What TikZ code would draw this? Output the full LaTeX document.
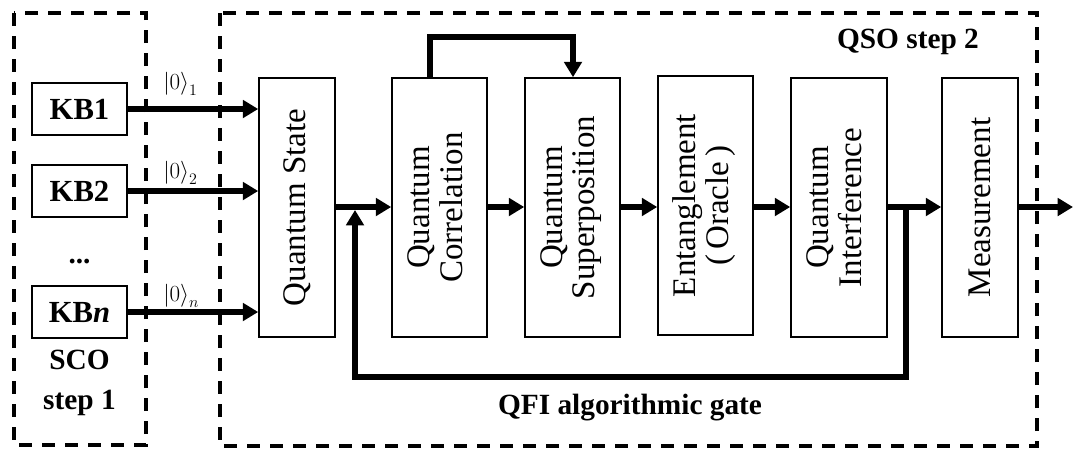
\documentclass[tikz,border=0pt]{standalone}
\usepackage{fontspec}
\setmainfont{Liberation Serif}
\usetikzlibrary{arrows.meta}
\begin{document}
\begin{tikzpicture}[x=0.75pt,y=-0.75pt,
  dashbox/.style={draw,line width=3pt,dash pattern=on 9.75pt off 7.5pt},
  block/.style={draw,line width=1.2pt,inner sep=0pt,font=\fontsize{24.75}{24}\selectfont,align=center},
  kbbox/.style={draw,line width=1pt,inner sep=0pt,minimum width=71.25pt,minimum height=39pt,font=\fontsize{23}{27}\selectfont\bfseries},
  arr/.style={line width=4.5pt,-{Triangle[length=11.5pt,width=13pt]}},
  lbl/.style={font=\fontsize{22}{30}\selectfont\bfseries,align=center,inner sep=0pt},
  ket/.style={font=\fontsize{16.5}{18}\selectfont,anchor=west,inner sep=0pt}
]
\useasboundingbox (0,0) rectangle (1073,450);
% dashed frames
\draw[dashbox] (14,13) rectangle (146,445);
\draw[dashbox] (220,13) rectangle (1037,446);
% KB boxes
\node[kbbox] (kb1) at (79.5,109) {KB1};
\node[kbbox] (kb2) at (79.5,191) {KB2};
\node[lbl] (dots) at (79.5,262) {...};
\node[kbbox] (kbn) at (79.5,312) {KB\textit{n}};
\node[lbl] (sco) at (79.5,383) {SCO\\step 1};
% blocks
\node[block,minimum width=57pt,minimum height=194.25pt] (qs) at (297,207.5) {\rotatebox{90}{Quantum State}};
\node[block,minimum width=71.25pt,minimum height=194.25pt] (qc) at (439.5,207.5) {\rotatebox{90}{\begin{tabular}{@{}c@{}}Quantum\\Correlation\end{tabular}}};
\node[block,minimum width=71.25pt,minimum height=194.25pt] (qsp) at (572.5,207.5) {\rotatebox{90}{\begin{tabular}{@{}c@{}}Quantum\\Superposition\end{tabular}}};
\node[block,minimum width=71.25pt,minimum height=194.25pt] (ent) at (705.5,205.5) {\rotatebox{90}{\begin{tabular}{@{}c@{}}Entanglement\\(\,Oracle\,)\end{tabular}}};
\node[block,minimum width=72pt,minimum height=194.25pt] (qi) at (839,207.5) {\rotatebox{90}{\begin{tabular}{@{}c@{}}Quantum\\Interference\end{tabular}}};
\node[block,minimum width=57pt,minimum height=194.25pt] (meas) at (980,207.5) {\rotatebox{90}{Measurement}};
% labels
\node[lbl] (qso) at (908,42) {QSO step 2};
\node[lbl] (qfi) at (630,408) {QFI algorithmic gate};
\node[ket] (k1) at (163,84) {$\left|0\right\rangle_{1}$};
\node[ket] (k2) at (163,173) {$\left|0\right\rangle_{2}$};
\node[ket] (kn) at (163,296) {$\left|0\right\rangle_{n}$};
% input arrows
\draw[arr] (kb1.east) -- (kb1.east -| qs.west);
\draw[arr] (kb2.east) -- (kb2.east -| qs.west);
\draw[arr] (kbn.east) -- (kbn.east -| qs.west);
% main chain
\draw[arr] (qs.east |- 0,207) -- (qc.west |- 0,207);
\draw[arr] (qc.east |- 0,207) -- (qsp.west |- 0,207);
\draw[arr] (qsp.east |- 0,207) -- (ent.west |- 0,207);
\draw[arr] (ent.east |- 0,207) -- (qi.west |- 0,207);
\draw[arr] (qi.east |- 0,207) -- (meas.west |- 0,207);
\coordinate (out) at (1073,207);
\draw[arr] (meas.east |- out) -- (out);
% top loop
\coordinate (t1) at (430,37);
\coordinate (t2) at (573,37);
\draw[arr] (qc.north -| t1) -- (t1) -- (t2) -- (t2 |- qsp.north);
% feedback
\coordinate (j1) at (906,207);
\coordinate (fb) at (355,377);
\coordinate (j2) at (355,210);
\draw[arr] (j1) |- (fb) -- (j2);
\end{tikzpicture}
\end{document}
